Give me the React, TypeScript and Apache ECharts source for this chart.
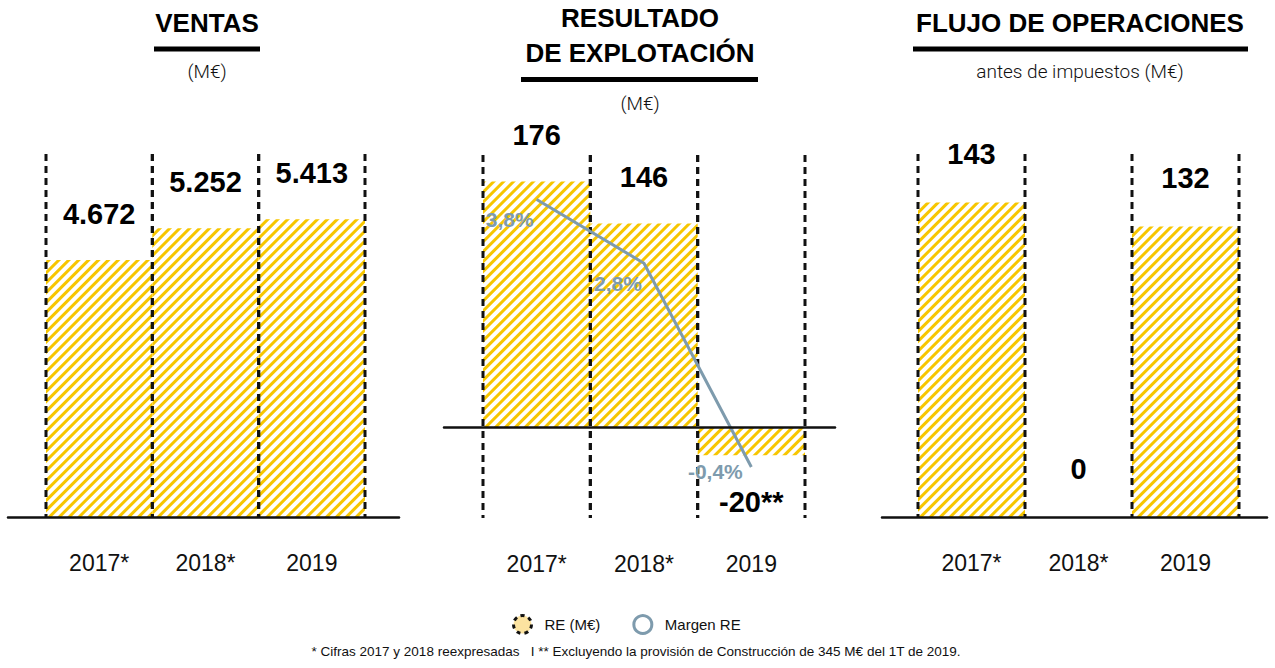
import React, { useEffect, useRef } from 'react';
import * as echarts from 'echarts';

// ---------- data ----------
const years = ['2017*', '2018*', '2019'];
const ventas = [4672, 5252, 5413];
const resultado = [176, 146, -20];
const resultadoSuffix = ['', '', '**'];
const margenRE = [3.8, 2.8, -0.4];
const flujo = [143, 0, 132];
const flujoFramed = [0, 2];
const ventasRange = [0, 6600];
const resultadoRange = [-65, 195];
const margenRange = [-1.2, 4.5];
const flujoRange = [0, 165];

// ---------- styles ----------
const SANS = '"Liberation Sans", Arial, Helvetica, sans-serif';
const LIGHT = 'Roboto, "Liberation Sans", Arial, sans-serif';
const YELLOW = '#F7C600';
const LINE = '#7E9BAD';
const INK = '#111111';

const stripes = {
  symbol: 'rect',
  symbolSize: 1,
  color: YELLOW,
  dashArrayX: [1, 0],
  dashArrayY: [3, 4],
  rotation: -Math.PI / 4,
};
const barItem = { color: '#ffffff', decal: stripes };
const valueLabel = {
  show: true,
  position: 'top',
  distance: 32,
  color: '#000',
  fontFamily: SANS,
  fontWeight: 'bold',
  fontSize: 29,
};

const fmtThousands = (v: number) => String(v).replace(/\B(?=(\d{3})+(?!\d))/g, '.');
const fmtPct = (v: number) => v.toFixed(1).replace('.', ',') + '%';

const margenLabelOffsets = [[-27, 20], [-26, 20], [-36, 4]];

function frameSeries(xi: number, yi: number, cats: number[], range: number[]) {
  return {
    type: 'custom',
    xAxisIndex: xi,
    yAxisIndex: yi,
    z: 5,
    silent: true,
    data: cats.map((c) => [c, range[1], range[0]]),
    renderItem: (params: any, api: any) => {
      const c = api.value(0);
      const top = api.coord([c, api.value(1)]);
      const bot = api.coord([c, api.value(2)]);
      const w = api.size([1, 0])[0];
      const style = { stroke: INK, lineWidth: 3, lineDash: [7, 5], fill: null };
      const xl = top[0] - w / 2;
      const xr = top[0] + w / 2;
      return {
        type: 'group',
        children: [
          { type: 'line', shape: { x1: xl, y1: top[1], x2: xl, y2: bot[1] }, style },
          { type: 'line', shape: { x1: xr, y1: top[1], x2: xr, y2: bot[1] }, style },
        ],
      };
    },
  };
}

const catAxis = (gi: number) => ({
  type: 'category',
  gridIndex: gi,
  data: years,
  boundaryGap: true,
  axisLine: { show: false, onZero: false },
  axisTick: { show: false },
  splitLine: { show: false },
  axisLabel: { margin: 34, fontSize: 23, fontFamily: SANS, color: INK },
});
const frameXAxis = (gi: number) => ({
  type: 'value',
  gridIndex: gi,
  min: 0,
  max: 1,
  z: 10,
  axisLine: { show: true, onZero: true, lineStyle: { color: INK, width: 2.5 } },
  axisTick: { show: false },
  axisLabel: { show: false },
  splitLine: { show: false },
});
const hiddenY = (gi: number, r: number[]) => ({
  type: 'value',
  gridIndex: gi,
  min: r[0],
  max: r[1],
  show: false,
  splitLine: { show: false },
});

const titleText = (text: string, x: number, y: number) => ({
  type: 'text',
  x,
  y,
  style: { text, fill: '#000', font: `bold 26px ${SANS}`, align: 'center', verticalAlign: 'middle' },
});
const subText = (text: string, x: number, y: number) => ({
  type: 'text',
  x,
  y,
  style: { text, fill: '#111', font: `300 19px ${LIGHT}`, align: 'center', verticalAlign: 'middle' },
});
const underline = (x: number, y: number, width: number) => ({
  type: 'rect',
  shape: { x, y, width, height: 5 },
  style: { fill: '#000' },
});

export default function App() {
  const ref = useRef<HTMLDivElement>(null);
  useEffect(() => {
    if (!ref.current) return;
    const chart = echarts.init(ref.current, null, { renderer: 'svg' });
    chart.setOption({
      animation: false,
      backgroundColor: '#ffffff',
      grid: [
        { left: 46, width: 319, top: 154, height: 363 },
        { left: 483, width: 322, top: 155, height: 363 },
        { left: 918, width: 321, top: 154, height: 363 },
        { left: 8, width: 391, top: 154, height: 363 },
        { left: 444, width: 391, top: 155, height: 363 },
        { left: 882, width: 385, top: 154, height: 363 },
      ],
      xAxis: [catAxis(0), catAxis(1), catAxis(2), frameXAxis(3), frameXAxis(4), frameXAxis(5)],
      yAxis: [
        hiddenY(0, ventasRange),
        hiddenY(1, resultadoRange),
        hiddenY(1, margenRange),
        hiddenY(2, flujoRange),
        hiddenY(3, ventasRange),
        hiddenY(4, resultadoRange),
        hiddenY(5, flujoRange),
      ],
      legend: {
        left: 507,
        top: 609,
        itemWidth: 18,
        itemHeight: 18,
        itemGap: 32,
        selectedMode: false,
        textStyle: { fontFamily: SANS, fontSize: 15, color: INK, padding: [0, 0, 0, 8] },
        data: [
          {
            name: 'RE (M€)',
            icon: 'circle',
            itemStyle: { color: '#FCE3A0', borderColor: INK, borderWidth: 3, borderType: [4, 4], decal: 'none' },
          },
          {
            name: 'Margen RE',
            icon: 'circle',
            itemStyle: { color: '#ffffff', borderColor: LINE, borderWidth: 3 },
          },
        ],
      },
      series: [
        {
          type: 'bar',
          name: 'Ventas',
          xAxisIndex: 0,
          yAxisIndex: 0,
          data: ventas,
          barWidth: '100%',
          itemStyle: barItem,
          label: { ...valueLabel, formatter: (p: any) => fmtThousands(p.value) },
        },
        {
          type: 'bar',
          name: 'RE (M€)',
          xAxisIndex: 1,
          yAxisIndex: 1,
          data: resultado.map((v) => (v < 0 ? { value: v, label: { position: 'bottom', distance: 32 } } : v)),
          barWidth: '100%',
          itemStyle: barItem,
          label: { ...valueLabel, formatter: (p: any) => String(p.value) + resultadoSuffix[p.dataIndex] },
        },
        {
          type: 'bar',
          name: 'Flujo',
          xAxisIndex: 2,
          yAxisIndex: 3,
          data: flujo,
          barWidth: '100%',
          itemStyle: barItem,
          label: { ...valueLabel, distance: 34, formatter: (p: any) => String(p.value) },
        },
        frameSeries(0, 0, [0, 1, 2], ventasRange),
        frameSeries(1, 1, [0, 1, 2], resultadoRange),
        frameSeries(2, 3, flujoFramed, flujoRange),
        {
          type: 'line',
          name: 'Margen RE',
          xAxisIndex: 1,
          yAxisIndex: 2,
          z: 6,
          data: margenRE.map((v, i) => ({ value: v, label: { offset: margenLabelOffsets[i] } })),
          symbol: 'circle',
          symbolSize: 0,
          lineStyle: { color: LINE, width: 3 },
          itemStyle: { color: LINE },
          label: {
            show: true,
            position: 'inside',
            color: LINE,
            fontFamily: SANS,
            fontWeight: 'bold',
            fontSize: 21,
            formatter: (p: any) => fmtPct(p.value),
          },
        },
      ],
      graphic: [
        titleText('VENTAS', 207, 23),
        underline(154, 46.5, 106),
        subText('(M€)', 207, 71),
        titleText('RESULTADO', 640, 18),
        titleText('DE EXPLOTACIÓN', 640, 53),
        underline(521, 77, 237),
        subText('(M€)', 640, 103),
        titleText('FLUJO DE OPERACIONES', 1080, 23),
        underline(913, 46.5, 335),
        subText('antes de impuestos (M€)', 1080, 71),
        {
          type: 'text',
          x: 636,
          y: 651,
          style: {
            text: '* Cifras 2017 y 2018 reexpresadas   I ** Excluyendo la provisión de Construcción de 345 M€ del 1T de 2019.',
            fill: INK,
            font: `13.5px ${SANS}`,
            align: 'center',
            verticalAlign: 'middle',
          },
        },
      ],
    });
    return () => chart.dispose();
  }, []);
  return (
    <div
      ref={ref}
      style={{ position: 'fixed', left: 0, top: 0, width: 1275, height: 668, background: '#fff' }}
    />
  );
}
